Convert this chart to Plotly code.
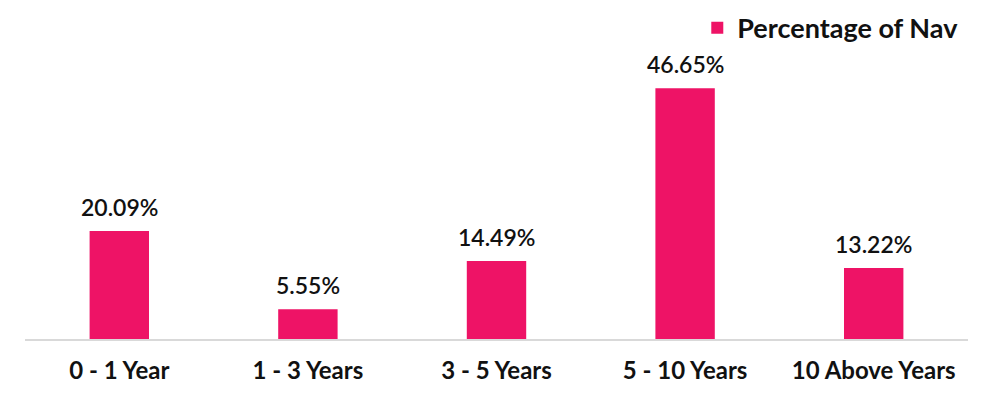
import plotly.graph_objects as go

categories = ["0 - 1 Year", "1 - 3 Years", "3 - 5 Years", "5 - 10 Years", "10 Above Years"]
values = [20.09, 5.55, 14.49, 46.65, 13.22]
labels = ["20.09%", "5.55%", "14.49%", "46.65%", "13.22%"]
series_name = "Percentage of Nav"

color = "#EE1366"
font = "Lato, 'Open Sans', sans-serif"

fig = go.Figure(go.Bar(
    x=categories, y=values, name=series_name,
    marker=dict(color=color, line=dict(width=0)),
    width=0.315,
    showlegend=True,
))

for c, v, t in zip(categories, values, labels):
    fig.add_annotation(
        x=c, y=v, text=t, showarrow=False, yanchor="bottom", yshift=8,
        font=dict(family=font, size=23, color="#111111", weight=600),
    )

# page has an 8px body margin; margins compensate for it
fig.update_layout(
    width=999, height=395,
    margin=dict(l=17, r=39, t=2, b=64, autoexpand=False),
    plot_bgcolor="white", paper_bgcolor="white",
    font=dict(family=font, color="#111111"),
    showlegend=True,
    legend=dict(
        x=0.995, xanchor="right", y=0.945, yanchor="middle",
        font=dict(family=font, size=27, color="#111111", weight="bold"),
        bgcolor="rgba(0,0,0,0)",
    ),
    xaxis=dict(
        showline=True, linecolor="#D9D9D9", linewidth=2,
        ticks="", ticklabelstandoff=9,
        tickfont=dict(family=font, size=24, color="#111111", weight="bold"),
        showgrid=False,
    ),
    yaxis=dict(range=[0, 61.2], visible=False, showgrid=False, zeroline=False),
)

fig.write_html("out.html")
